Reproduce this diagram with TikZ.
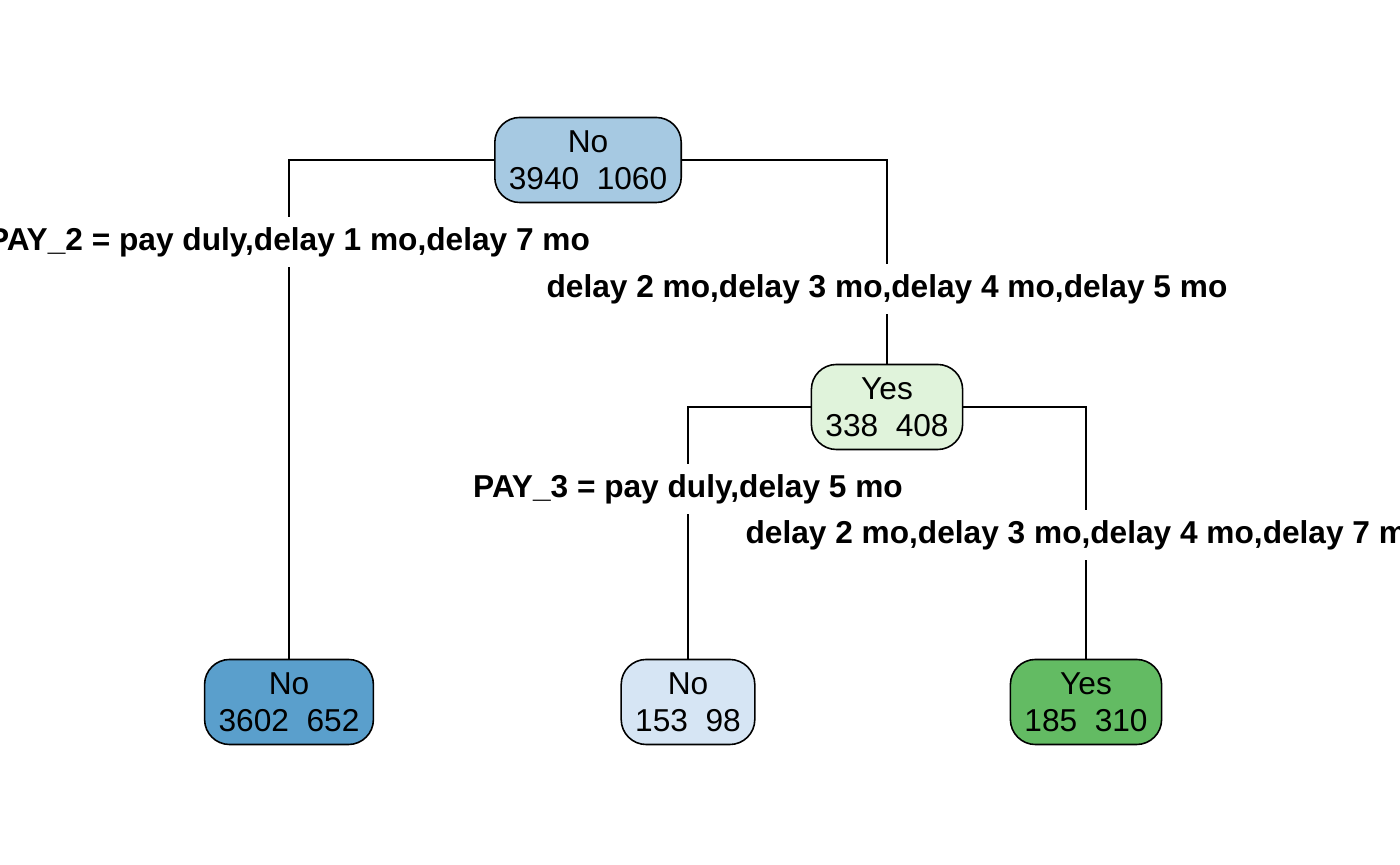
\documentclass[tikz,border=0pt]{standalone}
\usepackage{fontspec}
\setmainfont{Liberation Sans}
\usepackage{tikz}
\usetikzlibrary{positioning}
\definecolor{rootBlue}{RGB}{166,201,226}
\definecolor{leafBlue}{RGB}{90,159,204}
\definecolor{paleBlue}{RGB}{214,229,244}
\definecolor{paleGreen}{RGB}{224,243,219}
\definecolor{leafGreen}{RGB}{99,187,99}

\begin{document}
\begin{tikzpicture}[x=0.01cm, y=-0.01cm,
    every node/.style={font=\fontsize{9pt}{10.5pt}\selectfont},
    treenode/.style={draw, line width=0.45pt, rounded corners=0.25cm, align=center,
      inner xsep=0.14cm, inner ysep=0pt, minimum height=0.85cm},
    splitlabel/.style={fill=white, font=\fontsize{9pt}{10.5pt}\selectfont\bfseries, inner sep=0.3em},
    branch/.style={line width=0.45pt}]
  \useasboundingbox (0,0) rectangle (1400,865);
  \clip (0,0) rectangle (1400,865);
  % Tree nodes
  \node[treenode, fill=rootBlue] (root) at (588,160) {No\\3940\ \ 1060};
  \node[treenode, fill=paleGreen] (yes) at (887,407) {Yes\\338\ \ 408};
  \node[treenode, fill=leafBlue] (leafA) at (289,702) {No\\3602\ \ 652};
  \node[treenode, fill=paleBlue] (leafB) at (688,702) {No\\153\ \ 98};
  \node[treenode, fill=leafGreen] (leafC) at (1086,702) {Yes\\185\ \ 310};
  % Branches
  \draw[branch] (root.west) -| (leafA.north);
  \draw[branch] (root.east) -| (yes.north);
  \draw[branch] (yes.west) -| (leafB.north);
  \draw[branch] (yes.east) -| (leafC.north);
  % Split labels
  \node[splitlabel] (split1) at (289,242) {PAY\_2 = pay duly,delay 1 mo,delay 7 mo};
  \node[splitlabel] (split2) at (887,289) {delay 2 mo,delay 3 mo,delay 4 mo,delay 5 mo};
  \node[splitlabel] (split3) at (688,489) {PAY\_3 = pay duly,delay 5 mo};
  \node[splitlabel] (split4) at (1086,535) {delay 2 mo,delay 3 mo,delay 4 mo,delay 7 mo};
\end{tikzpicture}
\end{document}
